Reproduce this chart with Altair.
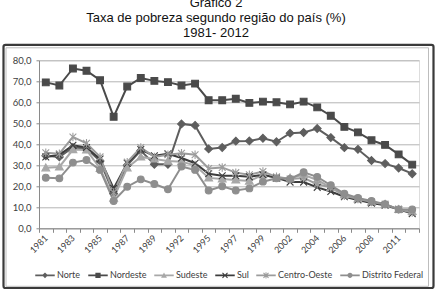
import altair as alt
import pandas as pd

anos = ["1981", "1982", "1983", "1984", "1985", "1986", "1987", "1988", "1989", "1990",
        "1992", "1993", "1995", "1996", "1997", "1998", "1999", "2001", "2002", "2003",
        "2004", "2005", "2006", "2007", "2008", "2009", "2011", "2012"]
rotulos = ["1981", "1983", "1985", "1987", "1989", "1992", "1995", "1997", "1999",
           "2002", "2004", "2006", "2008", "2011"]

regioes = ["Norte", "Nordeste", "Sudeste", "Sul", "Centro-Oeste", "Distrito Federal"]

norte = [34.5, 34.0, 38.5, 38.0, 32.0, 16.5, 30.0, 37.0, 30.5, 30.5, 49.7, 49.0, 37.8, 38.5,
         41.5, 41.6, 42.9, 41.2, 45.3, 45.6, 47.5, 43.2, 38.4, 37.6, 32.3, 30.8, 28.7, 26.0]
nordeste = [69.5, 68.0, 76.1, 75.0, 70.5, 53.1, 67.5, 71.6, 70.2, 69.6, 68.0, 68.9, 61.0, 61.0,
            61.7, 59.7, 60.3, 60.0, 59.0, 60.3, 57.6, 53.6, 48.3, 45.7, 41.9, 39.7, 35.2, 30.3]
sudeste = [28.8, 29.2, 37.5, 37.3, 28.5, 14.3, 28.8, 34.0, 33.0, 32.0, 31.7, 30.0, 24.0, 23.5,
           23.0, 22.5, 25.5, 24.0, 24.0, 25.5, 23.0, 19.5, 16.0, 14.0, 12.5, 11.5, 9.0, 8.0]
sul = [34.0, 35.0, 39.5, 38.5, 33.0, 19.0, 31.0, 37.5, 34.5, 35.5, 33.5, 31.0, 26.0, 25.0,
       25.0, 24.5, 25.5, 24.0, 22.0, 22.0, 19.5, 17.5, 15.0, 13.5, 12.0, 11.0, 9.0, 7.0]
centro_oeste = [36.0, 35.5, 43.5, 40.5, 34.0, 17.0, 31.5, 38.5, 34.0, 35.0, 35.7, 35.0, 28.5, 29.0,
                26.5, 25.5, 27.0, 24.5, 23.5, 24.0, 21.0, 19.5, 15.5, 14.0, 12.5, 11.5, 9.0, 7.5]
distrito_federal = [24.1, 23.8, 31.3, 32.5, 27.8, 13.0, 19.8, 23.3, 21.1, 18.6, 29.4, 27.8, 18.0, 20.0,
                    18.0, 19.0, 22.2, 23.8, 23.5, 26.7, 24.5, 20.5, 16.5, 14.5, 13.0, 11.5, 9.0, 9.0]

series = [norte, nordeste, sudeste, sul, centro_oeste, distrito_federal]
cores = ["#5e5e5e", "#4a4a4a", "#a8a8a8", "#3c3c3c", "#9c9c9c", "#8e8e8e"]

rows = []
for reg, vals in zip(regioes, series):
    for a, v in zip(anos, vals):
        rows.append({"ano": a, "regiao": reg, "valor": v})
df = pd.DataFrame(rows)

# marker shapes (plot)
marcadores = [
    "M0,-1.15L1.15,0L0,1.15L-1.15,0Z",
    "M-1,-1H1V1H-1Z",
    "M0,-1.15L1.15,0.9H-1.15Z",
    "M-1,-1L1,1M-1,1L1,-1",
    "M-1,-1L1,1M-1,1L1,-1M0,-1.25V1.25",
    "circle",
]
# legend symbols: line + marker, filled shapes
linha = "M-1,-0.09H1V0.09H-1Z"
xpath = ("M-0.3,-0.22L-0.22,-0.3L0.3,0.22L0.22,0.3Z"
         "M-0.3,0.22L0.22,-0.3L0.3,-0.22L-0.22,0.3Z")
legenda_simb = [
    linha + "M0,-0.3L0.3,0L0,0.3L-0.3,0Z",
    linha + "M-0.27,-0.27H0.27V0.27H-0.27Z",
    linha + "M0,-0.3L0.3,0.24H-0.3Z",
    linha + xpath,
    linha + xpath + "M-0.05,-0.32H0.05V0.32H-0.05Z",
    linha + "M-0.27,0A0.27,0.27 0 1,1 0.27,0A0.27,0.27 0 1,1 -0.27,0Z",
]

FONT = "Lato"

x_enc = alt.X(
    "ano:N", sort=anos, bandPosition=0.5,
    scale=alt.Scale(type="band", domain=anos, paddingInner=0, paddingOuter=0),
    axis=alt.Axis(
        title=None, labelAngle=315, labelAlign="right", labelBaseline="middle",
        labelExpr="indexof(" + str(rotulos) + ", datum.value) >= 0 ? datum.value : ''",
        labelOverlap=False, labelPadding=4, labelFont=FONT, labelFontSize=9,
        labelColor="#404040", tickBand="extent", ticks=True, tickSize=4,
        tickColor="#8a8a8a", domainColor="#8a8a8a", grid=False,
    ),
)
y_enc = alt.Y(
    "valor:Q",
    scale=alt.Scale(domain=[0, 80], nice=False),
    axis=alt.Axis(
        title=None, values=[0, 10, 20, 30, 40, 50, 60, 70, 80],
        labelExpr="replace(format(datum.value, '.1f'), '.', ',')",
        labelFont=FONT, labelFontSize=9.5, labelColor="#404040", labelPadding=5,
        ticks=True, tickSize=3, tickColor="#8a8a8a", domainColor="#8a8a8a",
        grid=True, gridColor="#b4b4b4", gridWidth=1,
    ),
)

cor_escala = alt.Scale(domain=regioes, range=cores)

base = alt.Chart(df)

linhas = base.mark_line(strokeWidth=2).encode(
    x=x_enc, y=y_enc,
    color=alt.Color("regiao:N", scale=cor_escala, legend=None),
)

pontos = base.mark_point(filled=True, size=46, strokeWidth=1.1, opacity=1).encode(
    x=x_enc, y=y_enc,
    color=alt.Color("regiao:N", scale=cor_escala, legend=None),
    stroke=alt.Stroke("regiao:N", scale=cor_escala, legend=None),
    shape=alt.Shape("regiao:N", scale=alt.Scale(domain=regioes, range=marcadores), legend=None),
)

leg_props = dict(
    title=None, orient="none", legendX=-4, legendY=205, direction="horizontal",
    symbolSize=380, symbolStrokeWidth=0, symbolOpacity=1, labelFont=FONT,
    labelFontSize=9, labelColor="#404040", labelOffset=2, columnPadding=7,
    padding=0, columns=6,
)
legenda = base.mark_point(filled=True, opacity=0).encode(
    x=x_enc, y=y_enc,
    color=alt.Color("regiao:N", scale=cor_escala, legend=alt.Legend(**leg_props)),
    shape=alt.Shape("regiao:N", scale=alt.Scale(domain=regioes, range=legenda_simb),
                    legend=alt.Legend(**leg_props)),
)

quadro_df = pd.DataFrame({"k": [0]})
quadro_ext = alt.Chart(quadro_df).mark_rect(fill=None, stroke="#3a3a3a", strokeWidth=2.2,
                                             cornerRadius=2).encode(
    x=alt.value(-35.5), x2=alt.value(394.5), y=alt.value(-15.5), y2=alt.value(227.8),
)
quadro_int = alt.Chart(quadro_df).mark_rect(fill=None, stroke="#bdbdbd", strokeWidth=1).encode(
    x=alt.value(-33), x2=alt.value(389.5), y=alt.value(-12.5), y2=alt.value(226),
)

chart = alt.layer(quadro_ext, quadro_int, linhas, pontos, legenda).resolve_scale(
    color="independent", shape="independent", stroke="independent"
).properties(
    width=380, height=168,
    autosize=alt.AutoSizeParams(type="none"),
    padding={"left": 39, "top": 60.3, "right": 17, "bottom": 60.7},
    title=alt.TitleParams(
        text=["Gráfico 2", "Taxa de pobreza segundo região do país (%)", "1981- 2012"],
        font="Liberation Sans", fontSize=13, fontWeight="normal", lineHeight=15,
        color="#111111", anchor="middle", baseline="bottom", offset=23, dx=-13, dy=32,
        frame="group",
    ),
).configure_view(stroke=None).configure(background="white")

chart.save("out.html", embed_options={"renderer": "svg", "actions": False})
